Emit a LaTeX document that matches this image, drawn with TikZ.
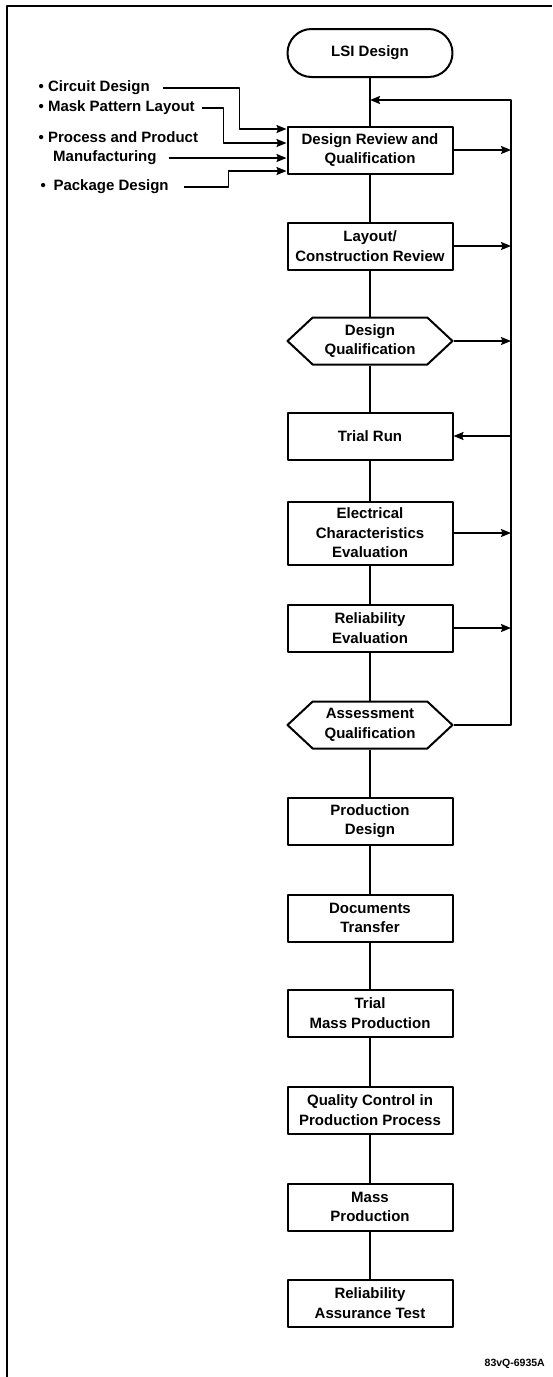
\documentclass[tikz,border=0pt]{standalone}
\usepackage{fontspec}
\setmainfont{Liberation Sans}
\usetikzlibrary{shapes.symbols,arrows.meta}

\tikzset{
  txt/.style={font=\fontsize{15}{19.5}\selectfont\bfseries},
  stage/.style={txt,draw,line width=2pt,minimum width=165pt,minimum height=47pt,align=center,inner sep=2pt},
  start/.style={stage,rounded corners=24pt,minimum height=48pt},
  check/.style={stage,shape=signal,signal to=east and west,signal pointer angle=86},
  inlabel/.style={txt,anchor=west,inner sep=0pt},
  link/.style={line width=1.5pt}
}

\begin{document}
\begin{tikzpicture}[x=1pt,y=-1pt,line join=round,>={Stealth[length=10pt,width=8pt,inset=1.5pt]}]
  \useasboundingbox (0,0) rectangle (552,1377);
  %Frame
  \draw[line width=1.2pt] (7,1377) -- (7,6) -- (552,6);
  %Main column
  \node[start] (lsi) at (370,53) {LSI Design};
  \node[stage] (dr) at (370,150) {Design Review and\\Qualification};
  \node[stage] (lay) at (370,246) {Layout/\\Construction Review};
  \node[check] (dq) at (370,341) {Design\\Qualification};
  \node[stage] (tr) at (370,436) {Trial Run};
  \node[stage,minimum height=63pt] (el) at (370,533) {Electrical\\Characteristics\\Evaluation};
  \node[stage] (re) at (370,628) {Reliability\\Evaluation};
  \node[check] (aq) at (370,725) {Assessment\\Qualification};
  \node[stage] (pd) at (370,821) {Production\\Design};
  \node[stage] (dt) at (370,918) {Documents\\Transfer};
  \node[stage] (tm) at (370,1013) {Trial\\Mass Production};
  \node[stage] (qc) at (370,1110) {Quality Control in\\Production Process};
  \node[stage] (mp) at (370,1207) {Mass\\Production};
  \node[stage] (ra) at (370,1303) {Reliability\\Assurance Test};
  \foreach \a/\b in {lsi/dr,dr/lay,lay/dq,dq/tr,tr/el,el/re,re/aq,aq/pd,pd/dt,dt/tm,tm/qc,qc/mp,mp/ra}
    \draw[link] (\a.south) -- (\b.north);
  %Feedback loop
  \coordinate (fb) at (511,100);
  \draw[link,->] (aq.east) -| (fb) -- (lsi.south |- fb);
  \foreach \n in {dr,lay,dq,el,re}
    \draw[link,->] (\n.east) -- (\n.east -| fb);
  \draw[link,->] (tr.east -| fb) -- (tr.east);
  %Inputs to design review
  \node[inlabel] (cd) at (38.4,88) {• Circuit Design};
  \node[inlabel] (mpl) at (38.4,108) {• Mask Pattern Layout};
  \node[inlabel] (ppm) at (38.4,137) {• Process and Product};
  \node[inlabel] (mfg) at (53,158) {Manufacturing};
  \node[inlabel] (pkg) at (40.4,187) {•\hspace{7.7pt}Package Design};
  \draw[link,->] ([xshift=13]cd.east) -| ([xshift=-47,yshift=21]dr.west) -- ([yshift=21]dr.west);
  \draw[link,->] ([xshift=7]mpl.east) -| ([xshift=-63,yshift=7]dr.west) -- ([yshift=7]dr.west);
  \draw[link,->] ([xshift=12]mfg.east) -- (mfg.east -| dr.west);
  \draw[link,->] ([xshift=15]pkg.east) -| ([xshift=-58,yshift=-21]dr.west) -- ([yshift=-21]dr.west);
  %Figure number
  \node[anchor=east,inner sep=0pt,font=\fontsize{10.5}{12}\selectfont\bfseries] (fig) at (545,1364) {83vQ-6935A};
\end{tikzpicture}
\end{document}
